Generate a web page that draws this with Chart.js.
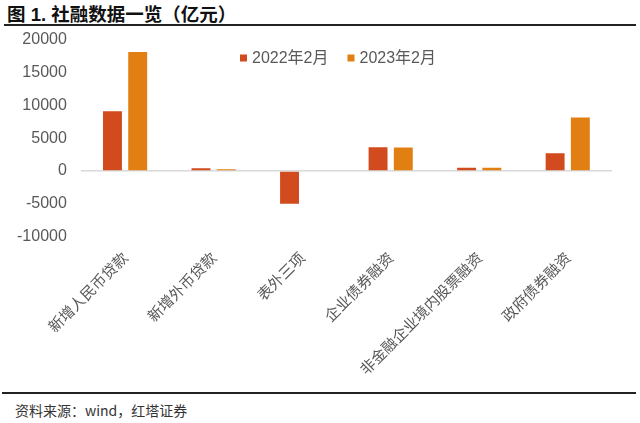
<!DOCTYPE html>
<html>
<head>
<meta charset="utf-8">
<script src="https://cdn.jsdelivr.net/npm/chart.js@4/dist/chart.umd.min.js"></script>
<style>
  html, body { margin: 0; padding: 0; background: #fff; }
  body { width: 640px; height: 423px; position: relative; overflow: hidden; }
  #title { position: absolute; left: 7px; top: 0px; font: bold 18.5px "Liberation Sans", "Noto Sans CJK SC", sans-serif; color: #111; white-space: nowrap; }
  #topline { position: absolute; left: 4px; width: 632px; top: 24px; height: 2px; background: #222; }
  #botline { position: absolute; left: 2px; width: 634px; top: 392px; height: 2px; background: #222; }
  #source { position: absolute; left: 15px; top: 400px; font: 14px "Noto Sans CJK SC", sans-serif; color: #333; white-space: nowrap; }
  #wrap { position: absolute; left: 0; top: 16px; width: 640px; height: 376px; }
</style>
</head>
<body>
<div id="title">图 1. 社融数据一览（亿元）</div>
<div id="topline"></div>
<div id="wrap"><canvas id="c"></canvas></div>
<div id="botline"></div>
<div id="source">资料来源：wind，红塔证券</div>
<script>
const categories = ["新增人民币贷款", "新增外币贷款", "表外三项", "企业债券融资", "非金融企业境内股票融资", "政府债券融资"];
const seriesNames = ["2022年2月", "2023年2月"];
const values2022 = [9084, 420, -4985, 3600, 500, 2700];
const values2023 = [18100, 250, 0, 3575, 480, 8150];
const yTicks = [20000, 15000, 10000, 5000, 0, -5000, -10000];

const insideLegend = {
  id: 'insideLegend',
  afterDraw(chart) {
    const ctx = chart.ctx;
    ctx.save();
    ctx.font = '16px "Liberation Sans", "Noto Sans CJK SC", sans-serif';
    ctx.textBaseline = 'middle';
    let x = 240;
    const y = 42;
    chart.data.datasets.forEach((ds) => {
      ctx.fillStyle = ds.backgroundColor;
      ctx.fillRect(x, y - 3.5, 7, 7);
      x += 12;
      ctx.fillStyle = '#595959';
      ctx.fillText(ds.label, x, y + 1);
      x += ctx.measureText(ds.label).width + 19;
    });
    ctx.restore();
  }
};

new Chart(document.getElementById('c'), {
  type: 'bar',
  data: {
    labels: categories,
    datasets: [
      { label: seriesNames[0], data: values2022, backgroundColor: '#d24b1e', categoryPercentage: 0.57, barPercentage: 0.75 },
      { label: seriesNames[1], data: values2023, backgroundColor: '#e27f12', categoryPercentage: 0.57, barPercentage: 0.75 }
    ]
  },
  plugins: [insideLegend],
  options: {
    responsive: true,
    maintainAspectRatio: false,
    animation: false,
    layout: { padding: { left: 3, right: 28, top: 0, bottom: 10 } },
    plugins: {
      legend: { display: false },
      tooltip: { enabled: false }
    },
    scales: {
      x: {
        grid: { display: false },
        border: { display: false },
        ticks: {
          autoSkip: false, minRotation: 45, maxRotation: 45, padding: 4,
          color: '#595959',
          font: { family: '"Noto Sans CJK SC", serif', size: 15 }
        }
      },
      y: {
        min: -10000, max: 20000,
        afterBuildTicks: (axis) => { axis.ticks = yTicks.map(v => ({ value: v })); },
        grid: {
          drawTicks: false,
          color: (ctx) => (ctx.tick && ctx.tick.value === 0) ? '#d9d9d9' : 'rgba(0,0,0,0)',
          lineWidth: 1.5
        },
        border: { display: false },
        ticks: {
          padding: 14,
          color: '#595959',
          callback: (v) => String(v),
          font: { family: '"Liberation Sans", Arial, sans-serif', size: 16 }
        }
      }
    }
  }
});
</script>
</body>
</html>
